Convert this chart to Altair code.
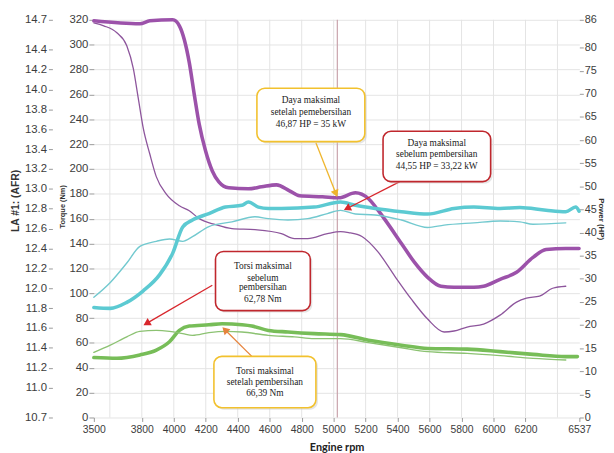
import altair as alt
import pandas as pd

# ---------------- data ----------------
# AFR (purple) – thick = setelah, thin = sebelum
afr_thick_rpm = [3500, 3788, 3850, 3994, 4035, 4066, 4097, 4128, 4159, 4199, 4241, 4282, 4344, 4467, 4549, 4642,
                 4724, 4786, 4930, 5033, 5136, 5218, 5280, 5321, 5424, 5506, 5588, 5671, 5753, 5877, 5938, 6041,
                 6144, 6247, 6329, 6452, 6535]
afr_thick = [14.69, 14.66, 14.69, 14.70, 14.64, 14.50, 14.27, 13.95, 13.65, 13.38, 13.18, 13.07, 13.01, 13.00, 13.02,
             13.04, 12.98, 12.93, 12.92, 12.91, 12.96, 12.90, 12.78, 12.69, 12.45, 12.26, 12.11, 12.02, 12.01, 12.01,
             12.02, 12.09, 12.16, 12.31, 12.39, 12.40, 12.40]
afr_thin_rpm = [3500, 3562, 3644, 3706, 3747, 3778, 3809, 3850, 3891, 3952, 4035, 4097, 4159, 4261, 4364, 4508,
                4673, 4755, 4838, 4961, 5043, 5094, 5177, 5280, 5383, 5486, 5588, 5691, 5753, 5835, 5938, 6041,
                6144, 6206, 6288, 6370, 6452]
afr_thin = [14.67, 14.64, 14.57, 14.44, 14.21, 13.91, 13.61, 13.35, 13.12, 12.95, 12.83, 12.78, 12.70, 12.64, 12.60,
            12.59, 12.55, 12.50, 12.50, 12.55, 12.57, 12.56, 12.52, 12.36, 12.12, 11.89, 11.69, 11.56, 11.57, 11.61,
            11.64, 11.73, 11.86, 11.90, 11.92, 12.00, 12.02]

# Power (cyan, HP)
hp_thick_rpm = [3500, 3603, 3706, 3809, 3912, 3994, 4056, 4117, 4220, 4323, 4426, 4467, 4529, 4591, 4673, 4878,
                5043, 5136, 5259, 5424, 5588, 5753, 5877, 6041, 6165, 6329, 6452, 6514, 6535]
hp_thick = [23.8, 23.6, 24.9, 27.4, 30.9, 35.6, 41.2, 42.7, 44.1, 45.5, 45.9, 46.6, 45.5, 45.2, 45.2, 45.5,
            46.6, 45.9, 45.2, 44.5, 44.0, 45.2, 45.5, 45.2, 45.4, 44.8, 44.5, 45.5, 44.6]
hp_thin_rpm = [3500, 3603, 3706, 3788, 3891, 3973, 4056, 4117, 4220, 4364, 4508, 4591, 4714, 4838, 4961, 5043,
               5136, 5259, 5424, 5588, 5691, 5877, 6041, 6165, 6247, 6452]
hp_thin = [26.0, 29.2, 33.4, 37.0, 38.1, 38.6, 38.1, 39.1, 41.3, 42.3, 43.4, 43.0, 42.7, 43.0, 44.1, 44.8,
           44.0, 43.8, 42.7, 41.1, 41.6, 42.1, 42.5, 42.3, 41.8, 42.1]

# Torque (green, Nm)
nm_thick_rpm = [3500, 3644, 3788, 3891, 3973, 4035, 4097, 4220, 4302, 4426, 4488, 4591, 4714, 4878, 5043, 5218,
                5424, 5588, 5835, 6041, 6247, 6452, 6525]
nm_thick = [48.2, 47.6, 50.3, 54.2, 60.9, 70.1, 73.6, 74.6, 75.4, 74.6, 73.6, 70.1, 68.8, 67.5, 66.7, 62.2,
            58.2, 55.6, 55.0, 53.0, 50.8, 49.0, 49.0]
nm_thin_rpm = [3500, 3603, 3706, 3788, 3891, 3973, 4056, 4117, 4220, 4323, 4426, 4591, 4755, 4878, 5043, 5218,
               5424, 5588, 5835, 6041, 6247, 6452]
nm_thin = [52.4, 58.2, 64.9, 69.3, 70.1, 69.3, 67.5, 66.1, 68.3, 69.3, 68.8, 66.1, 64.9, 63.5, 63.5, 60.3,
           56.1, 53.0, 51.6, 49.8, 47.6, 46.3]

# axis ticks
x_ticks = [3500, 3800, 4000, 4200, 4400, 4600, 4800, 5000, 5200, 5400, 5600, 5800, 6000, 6200, 6537]
x_grid = [3600, 3800, 4000, 4200, 4400, 4600, 4800, 5000, 5200, 5400, 5600, 5800, 6000, 6200, 6400]
afr_ticks = [10.7, 11.0, 11.2, 11.4, 11.6, 11.8, 12.0, 12.2, 12.4, 12.6, 12.8, 13.0, 13.2, 13.4, 13.6, 13.8,
             14.0, 14.2, 14.4, 14.7]
nm_ticks = list(range(0, 321, 20))
hp_ticks = list(range(0, 81, 5)) + [86]
marker_rpm = [5023]

# annotations (in rpm / Nm units)
box_x1 = [4520, 5309, 4261, 4251]
box_x2 = [5195, 5982, 4854, 4889]
box_y1 = [265.0, 230.3, 133.6, 49.2]
box_y2 = [222.0, 189.8, 86.0, 7.9]
box_col = ["#f2c12e", "#c0272d", "#c0272d", "#f2c12e"]

txt_x = [4858, 4858, 4858, 5645, 5645, 5645, 4557, 4557, 4557, 4557, 4570, 4570, 4570]
txt_y = [255.7, 245.6, 236.1, 221.0, 211.7, 202.5, 121.7, 112.5, 104.6, 95.3, 37.1, 28.6, 19.9]
txt = ["Daya maksimal", "setelah pemebersihan", "46,87 HP = 35 kW",
       "Daya maksimal", "sebelum pembersihan", "44,55 HP = 33,22 kW",
       "Torsi maksimal", "sebelum", "pembersihan", "62,78 Nm",
       "Torsi maksimal", "setelah pembersihan", "66,39 Nm"]

arr_x1 = [4889, 5414, 4241, 4488]
arr_y1 = [221.0, 189.8, 106.4, 49.2]
arr_x2 = [5014, 5084, 3830, 4320]
arr_y2 = [180.2, 168.2, 75.7, 70.6]
arr_ang = [158.7, 243.0, 239.8, 314.6]
arr_col = ["#efb52c", "#d8262c", "#d8262c", "#e6833c"]

# ---------------- scales / axes ----------------
x_scale = alt.Scale(domain=[3500, 6537], nice=False, zero=False)
afr_scale = alt.Scale(domain=[10.7, 14.7], nice=False, zero=False)
nm_scale = alt.Scale(domain=[0, 320], nice=False, zero=False)
hp_scale = alt.Scale(domain=[0, 86], nice=False, zero=False)

LBL = "#3c3c3c"
FONT = "Liberation Sans"

afr_axis = alt.Axis(orient="left", offset=42, values=afr_ticks, format=".1f", grid=False, domain=False,
                    tickSize=4, tickColor="#999999", labelPadding=2, labelFontSize=11.5, labelColor=LBL,
                    labelFont=FONT, labelOverlap=False, title="LA #1: (AFR)", titleFont=FONT,
                    titleFontSize=10.5, titleFontWeight="bold", titleColor="#333333", titlePadding=4, titleY=183)
nm_axis = alt.Axis(orient="left", values=nm_ticks, format="d", grid=True, gridColor="#e4e4e4", domain=False,
                   tickSize=5, tickColor="#999999", labelPadding=1, labelFontSize=11.5, labelColor=LBL,
                   labelFont=FONT, labelOverlap=False, title="Torque (Nm)", titleFont=FONT, titleFontSize=7.5,
                   titleFontWeight="bold", titleColor="#333333", titlePadding=3, titleY=189)
hp_axis = alt.Axis(orient="right", values=hp_ticks, format="d", grid=False, domain=False, tickSize=4,
                   tickColor="#999999", labelPadding=1, labelFontSize=11, labelColor=LBL, labelFont=FONT,
                   labelOverlap=False, title="Power (HP)", titleFont=FONT, titleFontSize=8,
                   titleFontWeight="bold", titleColor="#333333", titlePadding=0)
x_axis = alt.Axis(orient="bottom", values=x_ticks, format="d", grid=False, domain=False, tickSize=4,
                  tickColor="#999999", labelPadding=3, labelFontSize=10.5, labelColor=LBL, labelFont=FONT,
                  labelFlush=False, labelOverlap=False, labelSeparation=0, title="Engine rpm", titleFont="Lato",
                  titleFontSize=11, titleFontWeight="bold", titleColor="#222222", titlePadding=7)


def X(field):
    return alt.X(f"{field}:Q", scale=x_scale, axis=x_axis)


def line(rpm, vals, scale, color, width, axis):
    df = pd.DataFrame({"rpm": rpm, "v": vals})
    return alt.Chart(df).mark_line(color=color, strokeWidth=width, interpolate="monotone",
                                   strokeCap="round", strokeJoin="round").encode(
        x=X("rpm"),
        y=alt.Y("v:Q", scale=scale, axis=axis),
    )


# vertical grid + marker line
vgrid = alt.Chart(pd.DataFrame({"rpm": x_grid})).mark_rule(color="#e4e4e4", strokeWidth=1).encode(
    x=X("rpm"))
marker = alt.Chart(pd.DataFrame({"rpm": marker_rpm})).mark_rule(color="#c9a2ab", strokeWidth=1.2).encode(
    x=X("rpm"))

afr_layer = alt.layer(
    vgrid, marker,
    line(afr_thin_rpm, afr_thin, afr_scale, "#8d559c", 1.3, afr_axis),
    line(afr_thick_rpm, afr_thick, afr_scale, "#9c52aa", 3.6, afr_axis),
)

nm_layer = alt.layer(
    line(nm_thick_rpm, nm_thick, nm_scale, "#77bd58", 3.6, nm_axis),
    line(nm_thin_rpm, nm_thin, nm_scale, "#8cc272", 1.4, nm_axis),
)

hp_layer = alt.layer(
    line(hp_thin_rpm, hp_thin, hp_scale, "#72c9cf", 1.4, hp_axis),
    line(hp_thick_rpm, hp_thick, hp_scale, "#5ccad2", 3.6, hp_axis),
)

box_df = pd.DataFrame({"x1": box_x1, "x2": box_x2, "y1": box_y1, "y2": box_y2, "c": box_col})
txt_df = pd.DataFrame({"x": txt_x, "y": txt_y, "t": txt})
arr_df = pd.DataFrame({"x1": arr_x1, "y1": arr_y1, "x2": arr_x2, "y2": arr_y2, "a": arr_ang, "c": arr_col})


def Y(f):
    return alt.Y(f"{f}:Q", scale=nm_scale, axis=None)


shadow = alt.Chart(box_df).mark_rect(cornerRadius=8, fill="#cfcfcf", opacity=0.55, xOffset=2, x2Offset=2,
                                     yOffset=2, y2Offset=2).encode(
    x=X("x1"), x2="x2", y=Y("y1"), y2="y2")
boxes = alt.Chart(box_df).mark_rect(cornerRadius=8, fill="white", strokeWidth=1.6).encode(
    x=X("x1"), x2="x2", y=Y("y1"), y2="y2", stroke=alt.Stroke("c:N", scale=None))
texts = alt.Chart(txt_df).mark_text(font="Liberation Serif", fontSize=9.5, color="#222222",
                                    align="center", baseline="middle").encode(
    x=X("x"), y=Y("y"), text="t:N")
arrows = alt.Chart(arr_df).mark_rule(strokeWidth=1.3).encode(
    x=X("x1"), y=Y("y1"), x2="x2", y2="y2", color=alt.Color("c:N", scale=None))
heads = alt.Chart(arr_df).mark_point(filled=True, size=70, opacity=1, shape="triangle-up").encode(
    x=X("x2"), y=Y("y2"), angle=alt.Angle("a:Q", scale=None), color=alt.Color("c:N", scale=None))

annot_layer = alt.layer(arrows, heads, shadow, boxes, texts)

chart = alt.layer(afr_layer, nm_layer, hp_layer, annot_layer).resolve_scale(y="independent").properties(
    width=492, height=403,
    autosize=alt.AutoSizeParams(type="none"),
    padding={"left": 87, "top": 9, "right": 27, "bottom": 33},
    background="white",
).configure_view(stroke=None)

chart.save("out.html", embed_options={"renderer": "svg", "actions": False})
